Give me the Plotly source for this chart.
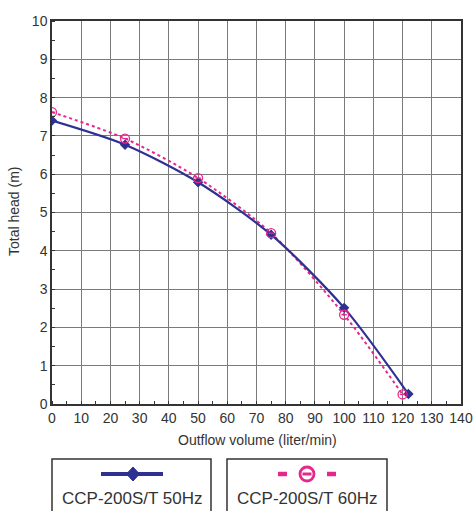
import plotly.graph_objects as go

# Data
flow_50 = [0, 25, 50, 75, 100, 122]
head_50 = [7.4, 6.77, 5.79, 4.42, 2.51, 0.26]
flow_60 = [0, 25, 50, 75, 100, 120]
head_60 = [7.62, 6.93, 5.9, 4.46, 2.33, 0.25]
x_ticks = list(range(0, 141, 10))
y_ticks = list(range(0, 11, 1))
series_names = ["CCP-200S/T 50Hz", "CCP-200S/T 60Hz"]

NAVY = "#2e3192"
PINK = "#e6288a"
TXT = "#333333"
FONT = "Liberation Sans, Arial, sans-serif"

W, H = 474, 511
L, R, T, B = 52, 461, 21, 404


def px(x):
    return (x - L) / (R - L)


def py(y):
    return (B - y) / (B - T)


fig = go.Figure()

fig.add_trace(go.Scatter(
    x=flow_60, y=head_60, mode="lines",
    line=dict(color=PINK, width=2, dash="3px,3px", shape="spline", smoothing=0.8),
    showlegend=False, hoverinfo="skip"))
fig.add_trace(go.Scatter(
    x=flow_50, y=head_50, mode="lines+markers",
    line=dict(color=NAVY, width=2.2, shape="spline", smoothing=0.8),
    marker=dict(symbol="diamond", size=8, color=NAVY),
    name=series_names[0], showlegend=False))
fig.add_trace(go.Scatter(
    x=flow_60, y=head_60, mode="markers",
    marker=dict(symbol="circle-open", size=9, color=PINK, line=dict(width=1.3)),
    name=series_names[1], showlegend=False))
fig.add_trace(go.Scatter(
    x=flow_60, y=head_60, mode="markers",
    marker=dict(symbol="line-ew-open", size=4, color=PINK, line=dict(width=1.3, color=PINK)),
    showlegend=False, hoverinfo="skip"))

axis_common = dict(
    showgrid=True, gridcolor="#7a7a7a", gridwidth=1.2,
    showline=True, linecolor="#333333", linewidth=1.5, mirror=True,
    zeroline=False, ticks="", automargin=False,
    tickfont=dict(family=FONT, size=14, color=TXT),
)

fig.update_xaxes(range=[0, 140], tickvals=x_ticks, ticktext=[str(v) for v in x_ticks],
                 minor=dict(dtick=5, ticks="inside", ticklen=3, tickcolor="#333", showgrid=False),
                 **axis_common)
fig.update_yaxes(range=[0, 10], tickvals=y_ticks, ticktext=[str(v) for v in y_ticks],
                 minor=dict(dtick=0.5, ticks="inside", ticklen=3, tickcolor="#333", showgrid=False),
                 **axis_common)

shapes = []
annotations = []


def label(x, y, text, size, angle=0):
    annotations.append(dict(x=px(x), y=py(y), xref="paper", yref="paper",
                            xanchor="center", yanchor="middle",
                            text=text, showarrow=False, textangle=angle,
                            font=dict(family=FONT, size=size, color=TXT)))


# axis titles
label(257, 440, "Outflow volume (liter/min)", 14)
label(14, 212, "Total head (m)", 14, -90)

# legend boxes
for x0, x1 in [(52, 211), (227, 387)]:
    shapes.append(dict(type="rect", xref="paper", yref="paper",
                       x0=px(x0), x1=px(x1), y0=py(540), y1=py(459),
                       line=dict(color="#333", width=1.5), fillcolor="rgba(0,0,0,0)"))

# legend symbol 1: line + diamond
shapes.append(dict(type="line", xref="paper", yref="paper",
                   x0=px(101), x1=px(163), y0=py(474), y1=py(474),
                   line=dict(color=NAVY, width=4)))
cx, cy = 133, 474
shapes.append(dict(type="path", xref="paper", yref="paper",
                   path=f"M {px(cx-6.5)},{py(cy)} L {px(cx)},{py(cy-7)} L {px(cx+6.5)},{py(cy)} L {px(cx)},{py(cy+7)} Z",
                   fillcolor=NAVY, line=dict(color=NAVY, width=1)))

# legend symbol 2: dashes + circle with bar
for a, b in [(278, 287), (327, 336)]:
    shapes.append(dict(type="line", xref="paper", yref="paper",
                       x0=px(a), x1=px(b), y0=py(474), y1=py(474),
                       line=dict(color=PINK, width=4.5)))
shapes.append(dict(type="circle", xref="paper", yref="paper",
                   x0=px(300), x1=px(314), y0=py(481), y1=py(467),
                   line=dict(color=PINK, width=2.8), fillcolor="rgba(0,0,0,0)"))
shapes.append(dict(type="line", xref="paper", yref="paper",
                   x0=px(302.5), x1=px(311.5), y0=py(474), y1=py(474),
                   line=dict(color=PINK, width=3)))

label(131.5, 498, series_names[0], 17)
label(307, 498, series_names[1], 17)

fig.update_layout(
    width=W, height=H,
    margin=dict(l=L, r=W - R, t=T, b=H - B, pad=0, autoexpand=False),
    paper_bgcolor="white", plot_bgcolor="white",
    shapes=shapes, annotations=annotations,
    showlegend=False,
)

fig.write_html("out.html", config={"displayModeBar": False},
               post_script="document.body.style.margin='0px';document.body.style.overflow='hidden';")
